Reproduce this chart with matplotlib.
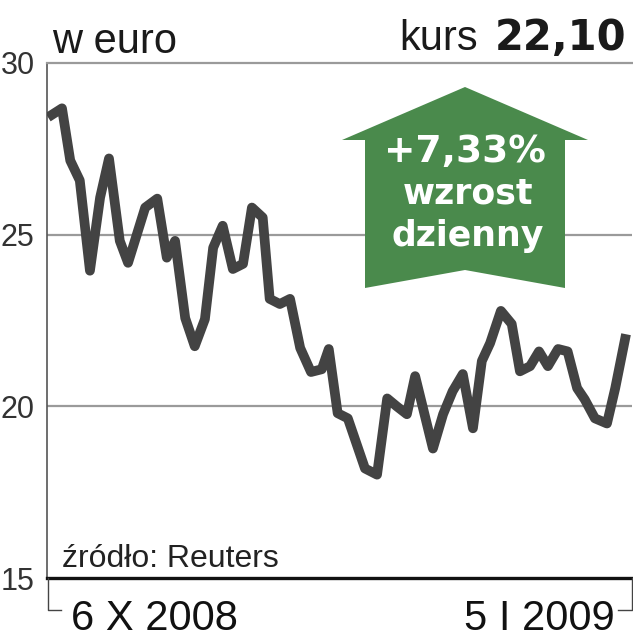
import matplotlib
matplotlib.use("Agg")
import matplotlib.pyplot as plt
from matplotlib.patches import Polygon
from matplotlib.lines import Line2D
from matplotlib import font_manager

# days since 6 X 2008 and closing price in euro
days = [0.0, 2.2, 3.5, 5.0, 6.6, 8.2, 9.6, 11.3, 12.6, 15.3, 17.2, 18.7, 20.0,
        21.6, 23.1, 24.7, 26.0, 27.5, 29.1, 30.7, 32.1, 33.8, 34.9, 36.5, 38.1,
        39.7, 41.4, 43.1, 44.2, 45.6, 47.2, 49.9, 51.8, 53.4, 54.9, 56.5, 57.8,
        60.6, 62.2, 63.7, 65.3, 66.9, 68.3, 69.6, 71.3, 73.0, 74.3, 75.9, 77.3,
        78.7, 80.3, 81.8, 83.3, 84.5, 86.1, 88.0, 89.3, 91.0]
price = [28.42, 28.68, 27.16, 26.58, 23.95, 26.08, 27.22, 24.82, 24.18, 25.79,
         26.05, 24.33, 24.82, 22.57, 21.75, 22.54, 24.62, 25.26, 24.00, 24.15,
         25.79, 25.50, 23.13, 22.98, 23.13, 21.70, 21.00, 21.08, 21.67, 19.80,
         19.65, 18.19, 18.01, 20.23, 20.00, 19.77, 20.88, 18.77, 19.77, 20.44,
         20.94, 19.36, 21.32, 21.84, 22.78, 22.40, 21.02, 21.17, 21.60, 21.17,
         21.67, 21.60, 20.53, 20.20, 19.65, 19.50, 20.53, 22.10]
yticks = [15, 20, 25, 30]
date_labels = ["6 X 2008", "5 I 2009"]

installed = {f.name for f in font_manager.fontManager.ttflist}
narrow = "Liberation Sans Narrow" if "Liberation Sans Narrow" in installed else "Liberation Sans"
tick_size = 23.5 if narrow == "Liberation Sans Narrow" else 22

W, H = 633, 640
fig = plt.figure(figsize=(W / 100, H / 100), dpi=100)


def fx(px):
    return px / W


def fy(py):
    return 1 - py / H


ax = fig.add_axes([fx(47), fy(578), fx(632) - fx(47), fy(63) - fy(578)])
ax.set_ylim(15, 30)
ax.set_xlim(-0.16, 91.94)

for v in [20, 25]:
    ax.axhline(v, color="#9a9a9a", lw=1.6, zorder=1)
ax.plot(days, price, color="#434343", lw=7, solid_joinstyle="round",
        solid_capstyle="butt", zorder=3)

for s in ["top", "right"]:
    ax.spines[s].set_visible(False)
ax.spines["left"].set_color("#555555")
ax.spines["left"].set_linewidth(1.2)
ax.spines["bottom"].set_color("#111111")
ax.spines["bottom"].set_linewidth(2.4)
ax.set_xticks([])
ax.set_yticks(yticks)
ax.set_yticklabels([str(t) for t in yticks], fontsize=tick_size, family=narrow,
                   color="#333333")
ax.tick_params(axis="y", length=0, pad=9)

# top gray rule at 30 running to the figure edge
fig.add_artist(Line2D([fx(47), 1.0], [fy(63), fy(63)], color="#9a9a9a", lw=1.6))

# brackets under the x axis
fig.add_artist(Line2D([fx(47.5), fx(47.5), fx(61)], [fy(578), fy(610), fy(610)],
                      color="#444444", lw=1.0))
fig.add_artist(Line2D([fx(618), fx(631.5), fx(631.5)], [fy(610), fy(610), fy(578)],
                      color="#444444", lw=1.0))

fig.text(fx(52), fy(53), "w euro", fontsize=30, family="Liberation Sans",
         color="#1a1a1a", va="baseline", ha="left")
fig.text(fx(626), fy(50), "22,10", fontsize=30, family="DejaVu Sans",
         weight="bold", color="#1a1a1a", va="baseline", ha="right")
fig.text(fx(478), fy(50), "kurs", fontsize=30, family="Liberation Sans",
         color="#1a1a1a", va="baseline", ha="right")

fig.text(fx(62), fy(567), "źródło: Reuters", fontsize=23, family="Liberation Sans",
         color="#222222", va="baseline", ha="left")
fig.text(fx(71), fy(630), date_labels[0], fontsize=30, family="Liberation Sans",
         color="#111111", va="baseline", ha="left")
fig.text(fx(615), fy(630), date_labels[1], fontsize=30, family="Liberation Sans",
         color="#111111", va="baseline", ha="right")

# green up arrow
arrow = [(465, 87), (588, 140), (565, 140), (565, 288), (465, 270),
         (365, 288), (365, 140), (342, 140)]
fig.add_artist(Polygon([(fx(x), fy(y)) for x, y in arrow], closed=True,
                       facecolor="#4a8a4c", edgecolor="none", zorder=5))
fig.text(fx(465), fy(162), "+7,33%", fontsize=27, family="DejaVu Sans",
         weight="bold", color="white", ha="center", va="baseline", zorder=6)
fig.text(fx(468), fy(203), "wzrost", fontsize=25, family="DejaVu Sans",
         weight="bold", color="white", ha="center", va="baseline", zorder=6)
fig.text(fx(468), fy(246), "dzienny", fontsize=25, family="DejaVu Sans",
         weight="bold", color="white", ha="center", va="baseline", zorder=6)

fig.savefig("out.png", dpi=100)
